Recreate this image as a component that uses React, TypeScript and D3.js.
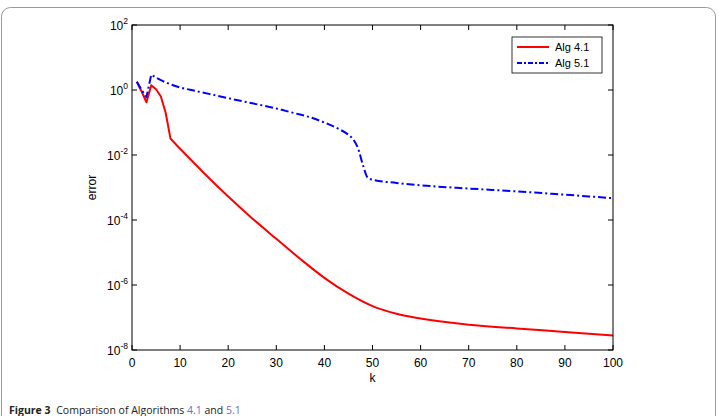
import React, { useRef, useEffect } from 'react';
import * as d3 from 'd3';

// iteration counts and errors for each algorithm
const kRed = [1, 2, 3, 4, 5, 6, 7, 8, 10, 13, 15, 20, 25, 30, 35, 40, 45, 50, 55, 60, 70, 80, 90, 100];
const errRed = [1.8, 0.9, 0.42, 1.4, 1.05, 0.63, 0.2, 0.032, 0.0155, 5.5e-3, 2.75e-3, 5.25e-4, 1.12e-4, 2.63e-5,
  6.3e-6, 1.66e-6, 5.4e-7, 2.24e-7, 1.3e-7, 9.3e-8, 6.0e-8, 4.6e-8, 3.6e-8, 2.8e-8];
const kBlue = [1, 2, 3, 4, 5, 6, 8, 10, 13, 16, 20, 25, 30, 34, 37, 40, 43, 45, 46, 47, 48, 49, 50, 55, 60, 70, 80, 90, 100];
const errBlue = [1.8, 1.0, 0.6, 2.95, 2.4, 2.0, 1.5, 1.2, 0.95, 0.76, 0.56, 0.39, 0.27, 0.19, 0.145, 0.1, 0.063,
  0.042, 0.03, 0.016, 5.0e-3, 2.0e-3, 1.74e-3, 1.38e-3, 1.17e-3, 9.3e-4, 7.6e-4, 6.0e-4, 4.7e-4];

const xTicks = [0, 10, 20, 30, 40, 50, 60, 70, 80, 90, 100];
const yExponents = [2, 0, -2, -4, -6, -8];
const legendLabels = ['Alg 4.1', 'Alg 5.1'];

const W = 719;
const H = 416;
const AXIS_FONT = '"Liberation Sans", Arial, sans-serif';

const App = () => {
  const svgRef = useRef<SVGSVGElement>(null);

  useEffect(() => {
    const svg = d3.select(svgRef.current);
    svg.selectAll('*').remove();

    const left = 132, right = 613, top = 25, bottom = 350;
    const x = d3.scaleLinear().domain([0, 100]).range([left, right]);
    const y = d3.scaleLog().domain([1e-8, 1e2]).range([bottom, top]);

    // figure frame
    svg.append('rect')
      .attr('x', 1.5).attr('y', 7.5)
      .attr('width', 714).attr('height', 430)
      .attr('rx', 9)
      .attr('fill', 'none')
      .attr('stroke', '#9a9a9a')
      .attr('stroke-width', 1);

    const g = svg.append('g');

    // curves: straight segments for the first few steps, smooth afterwards
    const drawSeries = (ks: number[], errs: number[], split: number, color: string, dash: string | null) => {
      const pts = ks.map((k, i) => [x(k), y(errs[i])] as [number, number]);
      const head = pts.slice(0, split + 1);
      const tail = pts.slice(split);
      const lin = d3.line().curve(d3.curveLinear);
      const smooth = d3.line().curve(d3.curveMonotoneX);
      const d = lin(head)! + smooth(tail)!.replace(/^M[^A-Za-z]*/, 'L' + tail[0].join(','));
      g.append('path')
        .attr('d', d)
        .attr('fill', 'none')
        .attr('stroke', color)
        .attr('stroke-width', 2)
        .attr('stroke-linejoin', 'round')
        .attr('stroke-dasharray', dash);
    };

    drawSeries(kRed, errRed, 7, '#ff0000', null);
    drawSeries(kBlue, errBlue, 3, '#0000ff', '8,3,2,3');

    // axes box
    svg.append('rect')
      .attr('x', left).attr('y', top)
      .attr('width', right - left).attr('height', bottom - top)
      .attr('fill', 'none')
      .attr('stroke', '#000')
      .attr('stroke-width', 1);

    const tickLen = 5;
    xTicks.forEach(t => {
      const xx = x(t);
      svg.append('line').attr('x1', xx).attr('x2', xx).attr('y1', bottom).attr('y2', bottom - tickLen)
        .attr('stroke', '#000');
      svg.append('line').attr('x1', xx).attr('x2', xx).attr('y1', top).attr('y2', top + tickLen)
        .attr('stroke', '#000');
      svg.append('text')
        .attr('x', xx).attr('y', bottom + 17)
        .attr('text-anchor', 'middle')
        .attr('font-family', AXIS_FONT)
        .attr('font-size', 12)
        .attr('fill', '#000')
        .text(t);
    });

    yExponents.forEach(e => {
      const yy = y(Math.pow(10, e));
      svg.append('line').attr('x1', left).attr('x2', left + tickLen).attr('y1', yy).attr('y2', yy)
        .attr('stroke', '#000');
      svg.append('line').attr('x1', right).attr('x2', right - tickLen).attr('y1', yy).attr('y2', yy)
        .attr('stroke', '#000');
      const label = svg.append('text')
        .attr('x', left - 4).attr('y', yy + 5)
        .attr('text-anchor', 'end')
        .attr('font-family', AXIS_FONT)
        .attr('font-size', 12)
        .attr('fill', '#000');
      label.append('tspan').text('10');
      label.append('tspan').attr('dy', -6).attr('font-size', 8.5).text(String(e));
    });

    // axis titles
    svg.append('text')
      .attr('x', (left + right) / 2).attr('y', bottom + 32)
      .attr('text-anchor', 'middle')
      .attr('font-family', AXIS_FONT)
      .attr('font-size', 12)
      .text('k');
    svg.append('text')
      .attr('transform', `translate(96,${(top + bottom) / 2}) rotate(-90)`)
      .attr('text-anchor', 'middle')
      .attr('font-family', AXIS_FONT)
      .attr('font-size', 12)
      .text('error');

    // legend
    const lg = svg.append('g').attr('transform', 'translate(512,37)');
    lg.append('rect').attr('width', 90).attr('height', 36)
      .attr('fill', '#fff').attr('stroke', '#000').attr('stroke-width', 0.8);
    const legendStyles = [
      { color: '#ff0000', dash: null },
      { color: '#0000ff', dash: '5,2,2,2' },
    ];
    legendLabels.forEach((lab, i) => {
      const ly = 10 + i * 16;
      lg.append('line').attr('x1', 5).attr('x2', 37).attr('y1', ly).attr('y2', ly)
        .attr('stroke', legendStyles[i].color).attr('stroke-width', 2)
        .attr('stroke-dasharray', legendStyles[i].dash);
      lg.append('text').attr('x', 43).attr('y', ly + 4)
        .attr('font-family', AXIS_FONT).attr('font-size', 11)
        .text(lab);
    });

    // caption
    const cap = svg.append('text')
      .attr('x', 9).attr('y', 414)
      .attr('font-family', '"Open Sans", "Noto Sans", sans-serif')
      .attr('font-size', 10.5)
      .attr('fill', '#222');
    cap.append('tspan').attr('font-weight', 'bold').text('Figure 3');
    cap.append('tspan').attr('dx', 3).text(' Comparison of Algorithms ');
    cap.append('tspan').attr('fill', '#6a6ad8').text('4.1');
    cap.append('tspan').text(' and ');
    cap.append('tspan').attr('fill', '#6a6ad8').text('5.1');
  }, []);

  return (
    <svg ref={svgRef} width={W} height={H}
      style={{ position: 'absolute', left: 0, top: 0, background: '#fff' }} />
  );
};

export default App;
